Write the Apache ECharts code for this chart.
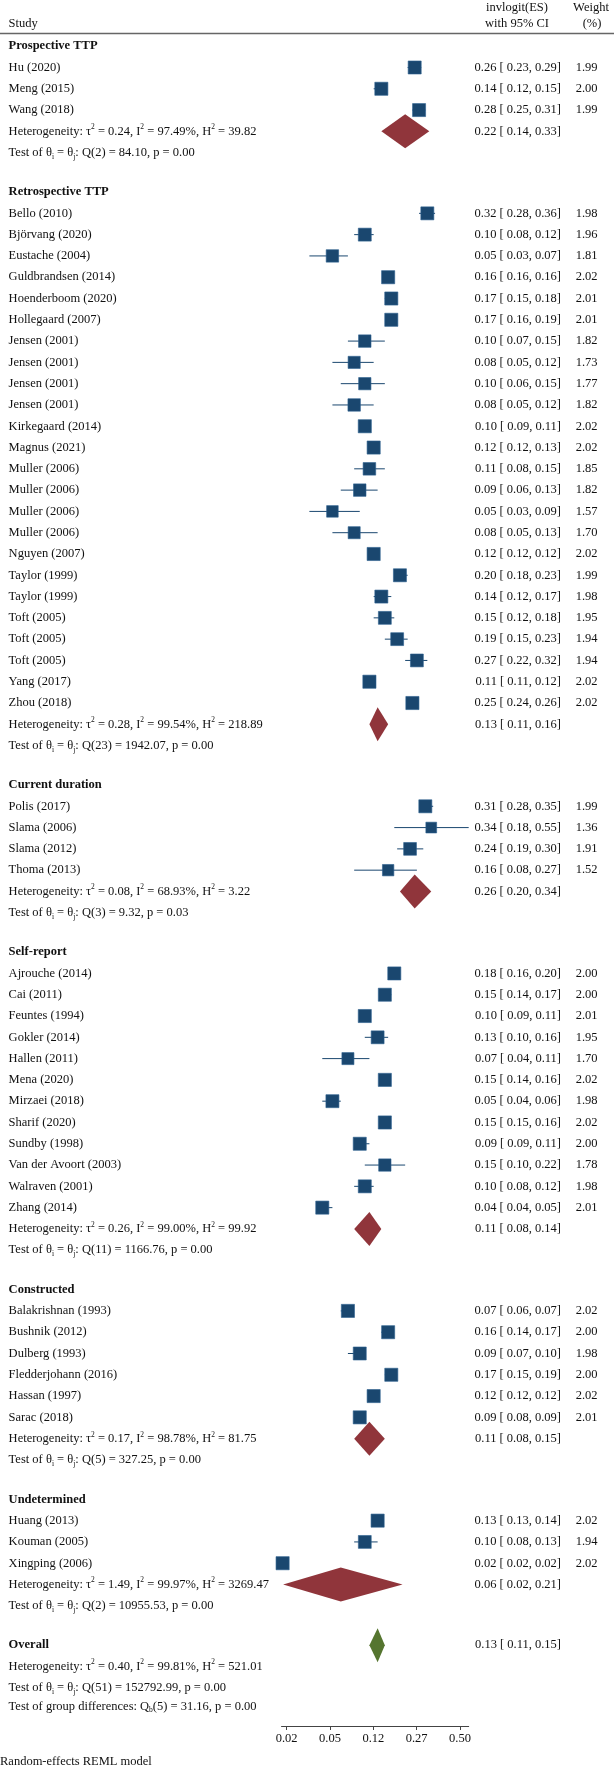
<!DOCTYPE html>
<html><head><meta charset="utf-8">
<script src="https://cdn.jsdelivr.net/npm/echarts@6.0.0/dist/echarts.min.js"></script>
<style>html,body{margin:0;padding:0;background:#fff}#c{width:614px;height:1767px}</style>
</head><body><div id="c"></div>
<script>
// ---------------- DATA ----------------
const groupNames = ['Prospective TTP','Retrospective TTP','Current duration','Self-report','Constructed','Undetermined'];
const studyNames = [
 'Hu (2020)','Meng (2015)','Wang (2018)',
 'Bello (2010)','Björvang (2020)','Eustache (2004)','Guldbrandsen (2014)','Hoenderboom (2020)','Hollegaard (2007)',
 'Jensen (2001)','Jensen (2001)','Jensen (2001)','Jensen (2001)','Kirkegaard (2014)','Magnus (2021)',
 'Muller (2006)','Muller (2006)','Muller (2006)','Muller (2006)','Nguyen (2007)','Taylor (1999)','Taylor (1999)',
 'Toft (2005)','Toft (2005)','Toft (2005)','Yang (2017)','Zhou (2018)',
 'Polis (2017)','Slama (2006)','Slama (2012)','Thoma (2013)',
 'Ajrouche (2014)','Cai (2011)','Feuntes (1994)','Gokler (2014)','Hallen (2011)','Mena (2020)','Mirzaei (2018)',
 'Sharif (2020)','Sundby (1998)','Van der Avoort (2003)','Walraven (2001)','Zhang (2014)',
 'Balakrishnan (1993)','Bushnik (2012)','Dulberg (1993)','Fledderjohann (2016)','Hassan (1997)','Sarac (2018)',
 'Huang (2013)','Kouman (2005)','Xingping (2006)'
];
const studyGroup = [0,0,0, 1,1,1,1,1,1,1,1,1,1,1,1,1,1,1,1,1,1,1,1,1,1,1,1, 2,2,2,2, 3,3,3,3,3,3,3,3,3,3,3,3, 4,4,4,4,4,4, 5,5,5];
const studyES = [0.26,0.14,0.28, 0.32,0.10,0.05,0.16,0.17,0.17,0.10,0.08,0.10,0.08,0.10,0.12,0.11,0.09,0.05,0.08,0.12,0.20,0.14,0.15,0.19,0.27,0.11,0.25, 0.31,0.34,0.24,0.16, 0.18,0.15,0.10,0.13,0.07,0.15,0.05,0.15,0.09,0.15,0.10,0.04, 0.07,0.16,0.09,0.17,0.12,0.09, 0.13,0.10,0.0164];
const studyLo = [0.23,0.12,0.25, 0.28,0.08,0.03,0.16,0.15,0.16,0.07,0.05,0.06,0.05,0.09,0.12,0.08,0.06,0.03,0.05,0.12,0.18,0.12,0.12,0.15,0.22,0.11,0.24, 0.28,0.18,0.19,0.08, 0.16,0.14,0.09,0.10,0.04,0.14,0.04,0.15,0.09,0.10,0.08,0.04, 0.06,0.14,0.07,0.15,0.12,0.08, 0.13,0.08,0.0160];
const studyHi = [0.29,0.15,0.31, 0.36,0.12,0.07,0.16,0.18,0.19,0.15,0.12,0.15,0.12,0.11,0.13,0.15,0.13,0.09,0.13,0.12,0.23,0.17,0.18,0.23,0.32,0.12,0.26, 0.35,0.55,0.30,0.27, 0.20,0.17,0.11,0.16,0.11,0.16,0.06,0.16,0.11,0.22,0.12,0.05, 0.07,0.17,0.10,0.19,0.12,0.09, 0.14,0.13,0.0168];
const studyWeight = [1.99,2.00,1.99, 1.98,1.96,1.81,2.02,2.01,2.01,1.82,1.73,1.77,1.82,2.02,2.02,1.85,1.82,1.57,1.70,2.02,1.99,1.98,1.95,1.94,1.94,2.02,2.02, 1.99,1.36,1.91,1.52, 2.00,2.00,2.01,1.95,1.70,2.02,1.98,2.02,2.00,1.78,1.98,2.01, 2.02,2.00,1.98,2.00,2.02,2.01, 2.02,1.94,2.02];

const groupES = [0.22,0.13,0.26,0.11,0.11,0.06];
const groupLo = [0.14,0.11,0.20,0.08,0.08,0.0166];
const groupHi = [0.33,0.16,0.34,0.14,0.15,0.21];
const groupTau2 = ['0.24','0.28','0.08','0.26','0.17','1.49'];
const groupI2 = ['97.49','99.54','68.93','99.00','98.78','99.97'];
const groupH2 = ['39.82','218.89','3.22','99.92','81.75','3269.47'];
const groupQdf = [2,23,3,11,5,2];
const groupQ = ['84.10','1942.07','9.32','1166.76','327.25','10955.53'];
const groupP = ['0.00','0.00','0.03','0.00','0.00','0.00'];

const overallES = [0.13, 0.11, 0.15];   // es, lo, hi
const overallStats = {tau2:'0.40', i2:'99.81', h2:'521.01', qdf:51, q:'152792.99', p:'0.00'};
const groupDiff = {df:5, q:'31.16', p:'0.00'};

const tickValues = [-4,-3,-2,-1,0];      // logit scale
const tickLabels = ['0.02','0.05','0.12','0.27','0.50'];

// ---------------- LAYOUT / STYLE ----------------
const FONT = 'Liberation Serif';
const FS = 12.5;
const NAVY = '#1A476F', MAROON = '#90353B', GREEN = '#55752F';
const ROW = 21.29, Y0 = 46.2, AXIS_Y = 1726, GAP = 1.851, DIFF_GAP = 0.88;
const LEFT_X = 8.6, ES_X = 561, W_X = 597.5;
const SQ = 9.24, DIAM_H = 17;

const logit = p => Math.log(p/(1-p));
const f2 = v => v.toFixed(2);
const ciText = (e,l,h) => f2(e) + ' [ ' + f2(l) + ', ' + f2(h) + ']';
const hetText = (t,i,h) => 'Heterogeneity: τ{sup|2} = ' + t + ', I{sup|2} = ' + i + '%, H{sup|2} = ' + h;
const testText = (df,q,p) => 'Test of θ{sub|i} = θ{sub|j}: Q(' + df + ') = ' + q + ', p = ' + p;

// build rows
const rows = [];
let u = 0;
groupNames.forEach((g, gi) => {
  rows.push({u, kind:'header', label:g, bold:true}); u += 1;
  studyNames.forEach((n, si) => {
    if (studyGroup[si] !== gi) return;
    rows.push({u, kind:'study', label:n, es:studyES[si], lo:studyLo[si], hi:studyHi[si], w:studyWeight[si],
      esText: ciText(studyES[si], studyLo[si], studyHi[si]), wText: f2(studyWeight[si])});
    u += 1;
  });
  rows.push({u, kind:'diamond', color:MAROON, label:hetText(groupTau2[gi], groupI2[gi], groupH2[gi]),
    es:groupES[gi], lo:groupLo[gi], hi:groupHi[gi], esText: ciText(groupES[gi], groupLo[gi], groupHi[gi])});
  u += 1;
  rows.push({u, kind:'text', label:testText(groupQdf[gi], groupQ[gi], groupP[gi])});
  u += GAP;
});
rows.push({u, kind:'diamond', color:GREEN, label:'Overall', bold:true,
  es:overallES[0], lo:overallES[1], hi:overallES[2], esText: ciText(overallES[0], overallES[1], overallES[2])});
u += 1;
rows.push({u, kind:'text', label:hetText(overallStats.tau2, overallStats.i2, overallStats.h2)}); u += 1;
rows.push({u, kind:'text', label:testText(overallStats.qdf, overallStats.q, overallStats.p)}); u += DIFF_GAP;
rows.push({u, kind:'text', label:'Test of group differences: Q{sub|b}(' + groupDiff.df + ') = ' + groupDiff.q + ', p = ' + groupDiff.p});

let xMin = Infinity, xMax = -Infinity;
rows.forEach(r => { if (r.lo != null) { xMin = Math.min(xMin, logit(r.lo)); xMax = Math.max(xMax, logit(r.hi)); } });

const rich = {
  sup: {fontFamily: FONT, fontSize: 7.5, lineHeight: 9, verticalAlign: 'top', fill: '#111'},
  sub: {fontFamily: FONT, fontSize: 7.5, lineHeight: 9, verticalAlign: 'bottom', fill: '#111'}
};
function txt(x, y, text, align, bold) {
  return {type:'text', x, y, style:{text, rich, fontFamily:FONT, fontSize:FS, fontWeight: bold ? 'bold' : 'normal',
    lineHeight: 16, fill:'#111', textAlign:align, textVerticalAlign:'middle'}};
}

function renderItem(params, api) {
  const r = rows[api.value(2)];
  const y = api.coord([0, r.u])[1];
  const ch = [];
  if (r.kind === 'study') {
    const a = api.coord([logit(r.lo), r.u])[0], b = api.coord([logit(r.hi), r.u])[0], e = api.coord([logit(r.es), r.u])[0];
    ch.push({type:'line', shape:{x1:a, y1:y, x2:b, y2:y}, style:{stroke:NAVY, lineWidth:1}});
    const s = SQ * Math.sqrt(r.w);
    ch.push({type:'rect', shape:{x:e - s/2, y:y - s/2, width:s, height:s}, style:{fill:NAVY, stroke:'#2c5f8f', lineWidth:0.6}});
  } else if (r.kind === 'diamond') {
    const a = api.coord([logit(r.lo), r.u])[0], b = api.coord([logit(r.hi), r.u])[0], e = api.coord([logit(r.es), r.u])[0];
    ch.push({type:'polygon', shape:{points:[[a,y],[e,y-DIAM_H],[b,y],[e,y+DIAM_H]]}, style:{fill:r.color}});
  }
  if (r.label) ch.push(txt(LEFT_X, y, r.label, 'left', r.bold));
  if (r.esText) ch.push(txt(ES_X, y, r.esText, 'right'));
  if (r.wText) ch.push(txt(W_X, y, r.wText, 'right'));
  return {type:'group', children:ch};
}

const chart = echarts.init(document.getElementById('c'), null, {renderer:'canvas'});
chart.setOption({
  animation: false,
  backgroundColor: '#fff',
  grid: {left: 460 + xMin * 43.33, right: 614 - (460 + xMax * 43.33), top: 0, bottom: 1767 - AXIS_Y, outerBoundsMode: 'none', containLabel: false},
  xAxis: {
    type:'value', min:xMin, max:xMax, position:'bottom',
    axisLine:{show:true, onZero:false, lineStyle:{color:'#444', width:1}},
    axisTick:{show:true, length:4, lineStyle:{color:'#444'}, customValues: tickValues},
    axisLabel:{customValues: tickValues, margin:6, fontFamily:FONT, fontSize:FS, color:'#111',
      formatter: v => tickLabels[tickValues.indexOf(Math.round(v))] },
    splitLine:{show:false}
  },
  yAxis: {type:'value', inverse:true, show:false, min: -Y0/ROW, max:(AXIS_Y - Y0)/ROW},
  graphic: [
    {type:'line', shape:{x1:0, y1:33.5, x2:614, y2:33.5}, style:{stroke:'#666', lineWidth:1.5}},
    {type:'text', x:LEFT_X, y:24, style:{text:'Study', fontFamily:FONT, fontSize:FS, fill:'#111', textAlign:'left', textVerticalAlign:'middle'}},
    {type:'text', x:517, y:7.5, style:{text:'invlogit(ES)', fontFamily:FONT, fontSize:FS, fill:'#111', textAlign:'center', textVerticalAlign:'middle'}},
    {type:'text', x:517, y:24, style:{text:'with 95% CI', fontFamily:FONT, fontSize:FS, fill:'#111', textAlign:'center', textVerticalAlign:'middle'}},
    {type:'text', x:591, y:7.5, style:{text:'Weight', fontFamily:FONT, fontSize:FS, fill:'#111', textAlign:'center', textVerticalAlign:'middle'}},
    {type:'text', x:592, y:24, style:{text:'(%)', fontFamily:FONT, fontSize:FS, fill:'#111', textAlign:'center', textVerticalAlign:'middle'}},
    {type:'text', x:0, y:1761.5, style:{text:'Random-effects REML model', fontFamily:FONT, fontSize:FS, fill:'#111', textAlign:'left', textVerticalAlign:'middle'}}
  ],
  series: [{
    type:'custom', clip:false, renderItem,
    encode:{x:0, y:1},
    data: rows.map((r, i) => [r.es != null ? logit(r.es) : 0, r.u, i])
  }]
});
</script></body></html>
